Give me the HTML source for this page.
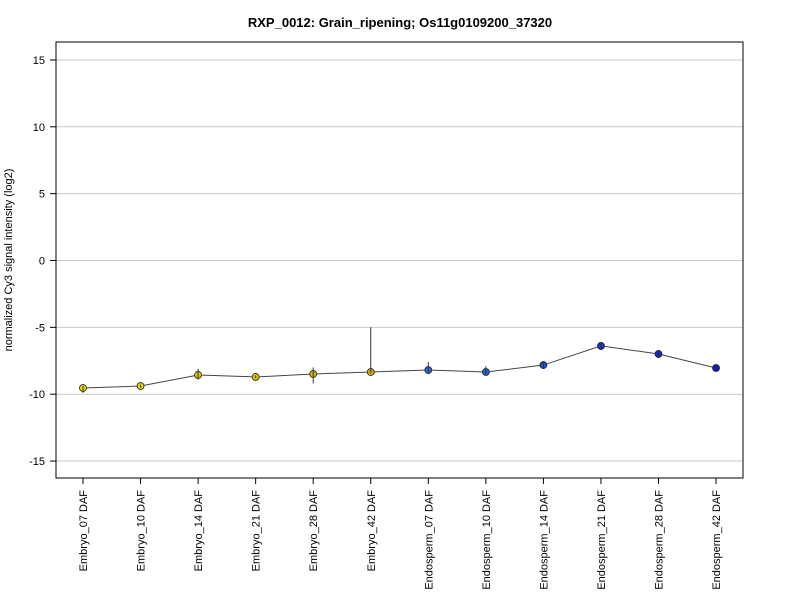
<!DOCTYPE html>
<html><head><meta charset="utf-8"><style>
body{margin:0;background:#fff;}
text{font-family:"Liberation Sans",Arial,sans-serif;}
</style></head><body>
<svg id="chart" width="800" height="600">
<text x="400" y="27" text-anchor="middle" font-size="13" font-weight="bold">RXP_0012: Grain_ripening; Os11g0109200_37320</text>
<text transform="translate(12,260) rotate(-90)" text-anchor="middle" font-size="11">normalized Cy3 signal intensity (log2)</text>
<g id="grid"></g><g id="axes"></g><g id="marks"></g>
<rect x="56" y="42" width="687" height="436" fill="none" stroke="#000" stroke-width="1"/>
</svg>
<script>
const categories=["Embryo_07 DAF","Embryo_10 DAF","Embryo_14 DAF","Embryo_21 DAF","Embryo_28 DAF","Embryo_42 DAF","Endosperm_07 DAF","Endosperm_10 DAF","Endosperm_14 DAF","Endosperm_21 DAF","Endosperm_28 DAF","Endosperm_42 DAF"];
const values=[-9.54,-9.39,-8.56,-8.71,-8.49,-8.34,-8.19,-8.34,-7.82,-6.39,-6.99,-8.04];
const errLow=[-9.9,-9.5,-8.9,-8.8,-9.2,-8.4,-8.5,-8.5,-8.1,-6.7,-7.3,-8.2];
const errHigh=[-9.4,-9.3,-8.1,-8.6,-8.0,-5.0,-7.6,-7.9,-7.6,-6.2,-6.8,-7.9];
const colors=["#e8d800","#e6d000","#e2c800","#dcc000","#d8b400","#d4a800","#2a6ad8","#2260d8","#1a50d8","#1236d4","#0e28d0","#0a1ccc"];
const yTicks=[-15,-10,-5,0,5,10,15];
const NS="http://www.w3.org/2000/svg";
const y=v=>260.5-v*13.37;
const x=i=>83+i*57.55;
function mk(tag,attrs,parent){const e=document.createElementNS(NS,tag);for(const k in attrs)e.setAttribute(k,attrs[k]);parent.appendChild(e);return e;}
const grid=document.getElementById('grid'),axes=document.getElementById('axes'),marks=document.getElementById('marks');
yTicks.forEach(t=>{
  const g=mk('line',{x1:56,x2:743,y1:y(t),y2:y(t),stroke:'#c8c8c8','stroke-width':1},grid);
  
  
  const tk=mk('line',{x1:50,x2:56,y1:y(t),y2:y(t),stroke:'#000'},axes);
  
  
  const tx=mk('text',{x:45,y:y(t)+4,'text-anchor':'end','font-size':11},axes);
  tx.textContent=t;
  
  
});
categories.forEach((c,i)=>{
  const tk=mk('line',{x1:x(i),x2:x(i),y1:478,y2:484,stroke:'#000'},axes);
  
  
  const tx=mk('text',{transform:`translate(${x(i)+4},490) rotate(-90)`,'text-anchor':'end','font-size':11},axes);
  tx.textContent=c;
  
  
});
const pl=mk('polyline',{points:values.map((v,i)=>x(i)+','+y(v)).join(' '),fill:'none',stroke:'#444','stroke-width':1},marks);


values.forEach((v,i)=>{
  const p=mk('circle',{cx:x(i),cy:y(v),r:3.5,fill:colors[i],stroke:'#222','stroke-width':0.8},marks);
  
  
});
values.forEach((v,i)=>{
  const eb=mk('line',{x1:x(i),x2:x(i),y1:y(errLow[i]),y2:y(errHigh[i]),stroke:'#333','stroke-width':1},marks);
  
  
});
</script>
</body></html>
